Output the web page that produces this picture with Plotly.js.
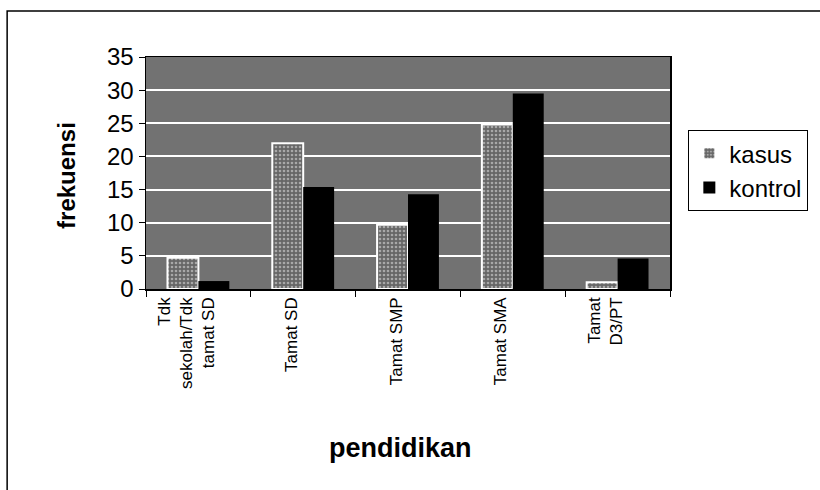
<!DOCTYPE html>
<html>
<head>
<meta charset="utf-8">
<script src="https://cdn.plot.ly/plotly-3.0.1.min.js"></script>
<style>html,body{margin:0;padding:0;background:#fff;}#chart{width:820px;height:490px;}</style>
</head>
<body>
<div id="chart"></div>
<script>
const categories = ["Tdk<br>sekolah/Tdk<br>tamat SD", "Tamat SD", "Tamat SMP", "Tamat SMA", "Tamat<br>D3/PT"];
const kasus = [4.7, 22, 9.7, 24.8, 1];
const kontrol = [1.2, 15.4, 14.3, 29.5, 4.6];
const yTicks = [0, 5, 10, 15, 20, 25, 30, 35];
const seriesNames = ["kasus", "kontrol"];
const yTitle = "frekuensi";
const xTitle = "pendidikan";

const F = "Liberation Sans, Arial, sans-serif";

const traces = [
  {
    type: "bar", name: seriesNames[0], x: categories, y: kasus,
    marker: {
      color: "#737373",
      line: {color: "#ffffff", width: 2},
      pattern: {shape: ".", fgcolor: "#a8a8a8", bgcolor: "#666666", size: 4, solidity: 0.35}
    }
  },
  {
    type: "bar", name: seriesNames[1], x: categories, y: kontrol,
    marker: {color: "#000000", line: {color: "#000000", width: 0}}
  }
];

const layout = {
  width: 820, height: 490,
  margin: {l: 146, r: 150, t: 57, b: 201},
  paper_bgcolor: "#ffffff",
  plot_bgcolor: "#727272",
  barmode: "group", bargap: 0.41, bargroupgap: 0,
  font: {family: F, color: "#000"},
  showlegend: true,
  legend: {
    x: 1.035, xanchor: "left", y: 0.685, yanchor: "top",
    bgcolor: "#ffffff", bordercolor: "#000", borderwidth: 1,
    font: {family: F, size: 24, color: "#000"},
    itemwidth: 30
  },
  xaxis: {
    type: "category", tickson: "boundaries", ticks: "outside", ticklen: 6, tickcolor: "#000",
    tickangle: -90, tickfont: {family: F, size: 17, color: "#000"}, ticklabelshift: -12,
    showline: true, linecolor: "#000", linewidth: 1.5, mirror: true,
    showgrid: false
  },
  yaxis: {
    range: [0, 35], tickvals: yTicks, ticks: "outside", ticklen: 6, tickcolor: "#000",
    tickfont: {family: F, size: 24, color: "#000"},
    showline: true, linecolor: "#000", linewidth: 1.5, mirror: true,
    showgrid: true, gridcolor: "#ffffff", gridwidth: 2, zeroline: false
  },
  annotations: [
    {text: "<b>" + yTitle + "</b>", xref: "paper", yref: "paper", x: -0.153, y: 0.491,
     xanchor: "center", yanchor: "middle",
     textangle: -90, showarrow: false, font: {family: F, size: 24, color: "#000"}},
    {text: "<b>" + xTitle + "</b>", xref: "paper", yref: "paper", x: 0.5, xshift: -8, y: -0.685,
     xanchor: "center", yanchor: "middle",
     showarrow: false, font: {family: F, size: 27, color: "#000"}}
  ],
  shapes: [
    {type: "rect", xref: "paper", yref: "paper", x0: -0.265, x1: 1.6, y0: -1.6, y1: 1.198,
     line: {color: "#000", width: 1.5}, fillcolor: "rgba(0,0,0,0)", layer: "below"}
  ]
};

Plotly.newPlot("chart", traces, layout, {displayModeBar: false, staticPlot: true});
</script>
</body>
</html>
